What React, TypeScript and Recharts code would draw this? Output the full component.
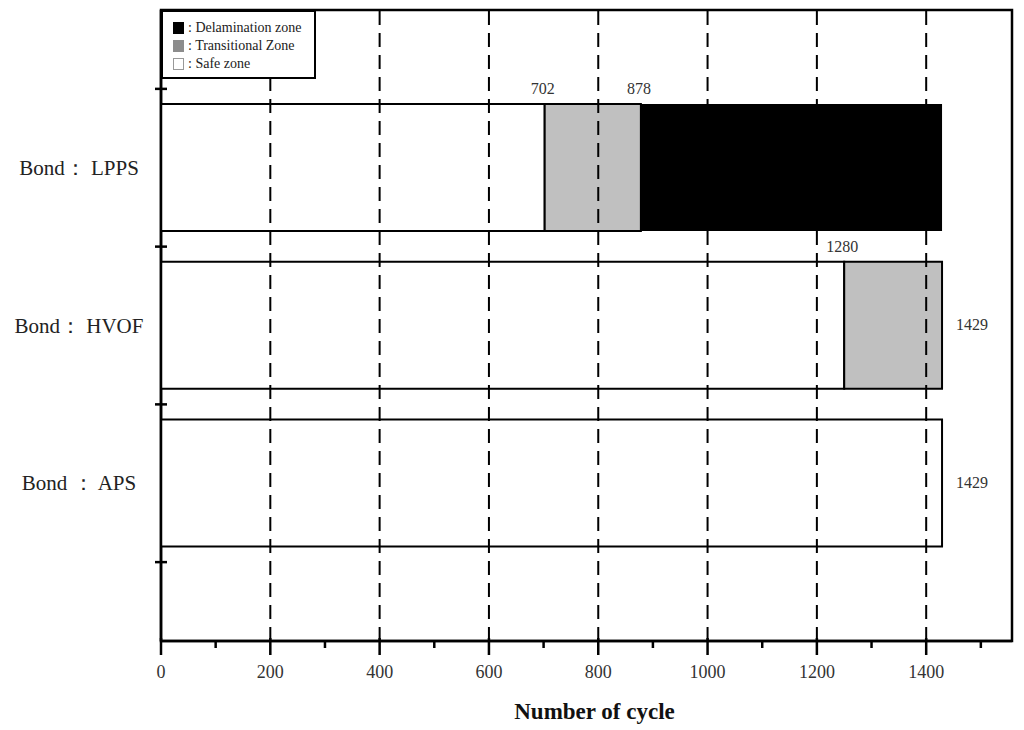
import {
  BarChart,
  Bar,
  XAxis,
  YAxis,
  ReferenceLine,
  ReferenceArea,
  LabelList,
  Legend,
} from 'recharts';

const categories = ['Bond： LPPS', 'Bond： HVOF', 'Bond ： APS'];
const positions = [1, 2, 3];
const safeZone = [702, 1250, 1429];
const transitionalZone = [176, 179, 0];
const delaminationZone = [551, 0, 0];
const safeEndLabels = ['702', '1280', ''];
const transitionalEndLabels = ['878', '', ''];
const totalLabels = ['', '1429', '1429'];

const xTicks = [0, 100, 200, 300, 400, 500, 600, 700, 800, 900, 1000, 1100, 1200, 1300, 1400, 1500];
const gridLines = [200, 400, 600, 800, 1000, 1200, 1400];
const yTicks = [0.5, 1, 1.5, 2, 2.5, 3, 3.5];

const legendItems = [
  { label: ': Delamination zone', fill: '#000000', stroke: '#000000' },
  { label: ': Transitional Zone', fill: '#8c8c8c', stroke: '#8c8c8c' },
  { label: ': Safe zone', fill: '#ffffff', stroke: '#999999' },
];

const FONT = '"Liberation Serif", "Times New Roman", serif';

// the total label sits next to whichever segment ends the row
const data = categories.map((name, i) => ({
  name,
  pos: positions[i],
  safe: safeZone[i],
  trans: transitionalZone[i],
  delam: delaminationZone[i],
  safeLabel: safeEndLabels[i],
  transLabel: transitionalEndLabels[i],
  safeTotal: transitionalZone[i] === 0 && delaminationZone[i] === 0 ? totalLabels[i] : '',
  transTotal: transitionalZone[i] > 0 && delaminationZone[i] === 0 ? totalLabels[i] : '',
  delamTotal: delaminationZone[i] > 0 ? totalLabels[i] : '',
}));

function XTick(props: any) {
  const { x, y, payload } = props;
  const v = payload.value;
  const major = v % 200 === 0;
  return (
    <g>
      <line x1={x} x2={x} y1={major ? y - 3 : y} y2={major ? y + 14 : y + 7} stroke='#000' strokeWidth={2.5} />
      {major && (
        <text x={x} y={y + 37} textAnchor='middle' fontSize={18} fill='#333' fontFamily={FONT}>
          {v}
        </text>
      )}
    </g>
  );
}

function YTick(props: any) {
  const { x, y, payload } = props;
  const v = payload.value;
  if (Number.isInteger(v)) {
    return (
      <text x={x - 82} y={y + 7} textAnchor='middle' fontSize={21} fill='#222' fontFamily={FONT}>
        {categories[v - 1]}
      </text>
    );
  }
  return <line x1={x - 6} x2={x + 6} y1={y} y2={y} stroke='#000' strokeWidth={2.5} />;
}

function boxOf(p: any) {
  const vb = p.viewBox ?? p;
  return { x: Number(vb.x), y: Number(vb.y), width: Number(vb.width), height: Number(vb.height) };
}

function TopEndLabel(props: any) {
  if (!props.value) return null;
  const { x, y, width } = boxOf(props);
  return (
    <text x={x + width - 2} y={y - 10} textAnchor='middle' fontSize={16} fill='#333' stroke='none' fontFamily={FONT}>
      {props.value}
    </text>
  );
}

function TotalLabel(props: any) {
  if (!props.value) return null;
  const { x, y, width, height } = boxOf(props);
  return (
    <text x={x + width + 30} y={y + height / 2 + 5} textAnchor='middle' fontSize={16} fill='#333' stroke='none' fontFamily={FONT}>
      {props.value}
    </text>
  );
}

function LegendBox() {
  return (
    <div
      style={{
        width: 155,
        height: 69,
        border: '2px solid #000',
        background: '#fff',
        fontFamily: FONT,
        fontSize: 14,
        color: '#222',
        paddingTop: 7,
        boxSizing: 'border-box',
      }}
    >
      {legendItems.map((item) => (
        <div key={item.label} style={{ display: 'flex', alignItems: 'center', height: 18, paddingLeft: 10 }}>
          <span
            style={{
              display: 'inline-block',
              width: 9,
              height: 10,
              background: item.fill,
              border: `1px solid ${item.stroke}`,
              marginRight: 4,
            }}
          />
          <span style={{ whiteSpace: 'nowrap' }}>{item.label}</span>
        </div>
      ))}
    </div>
  );
}

export default function App() {
  return (
    <div style={{ width: 1016, height: 722, fontFamily: FONT }}>
      <BarChart
        width={1016}
        height={722}
        data={data}
        layout='vertical'
        margin={{ top: 2, right: 12, bottom: 0, left: 0 }}
      >
        <XAxis
          type='number'
          domain={[0, 1557]}
          ticks={xTicks}
          interval={0}
          allowDataOverflow
          height={89}
          tickSize={0}
          tickMargin={0}
          tickLine={false}
          tick={<XTick />}
          axisLine={{ stroke: '#000', strokeWidth: 2.5 }}
          label={{
            content: (p: any) => {
              const vb = p.viewBox;
              return (
                <text
                  x={vb.x + vb.width / 2 + 8}
                  y={vb.y + 78}
                  textAnchor='middle'
                  fontSize={23}
                  fontWeight='bold'
                  fill='#111'
                  fontFamily={FONT}
                >
                  Number of cycle
                </text>
              );
            },
          }}
        />
        <YAxis
          type='number'
          dataKey='pos'
          domain={[0, 4]}
          ticks={yTicks}
          interval={0}
          width={153}
          tickSize={0}
          tickMargin={0}
          tickLine={false}
          tick={<YTick />}
          axisLine={{ stroke: '#000', strokeWidth: 2.5 }}
        />
        <ReferenceArea x1={0} x2={1557} y1={0} y2={4} fill='none' stroke='#000' strokeWidth={2.5} ifOverflow='visible' />
        <Bar dataKey='safe' stackId='a' barSize={127} fill='#ffffff' stroke='#000' strokeWidth={2} isAnimationActive={false}>
          <LabelList dataKey='safeLabel' content={<TopEndLabel />} />
          <LabelList dataKey='safeTotal' content={<TotalLabel />} />
        </Bar>
        <Bar dataKey='trans' stackId='a' barSize={127} fill='#c0c0c0' stroke='#000' strokeWidth={2} isAnimationActive={false}>
          <LabelList dataKey='transLabel' content={<TopEndLabel />} />
          <LabelList dataKey='transTotal' content={<TotalLabel />} />
        </Bar>
        <Bar dataKey='delam' stackId='a' barSize={127} fill='#000000' isAnimationActive={false}>
          <LabelList dataKey='delamTotal' content={<TotalLabel />} />
        </Bar>
        {gridLines.map((v) => (
          <ReferenceLine key={v} x={v} stroke='#000' strokeWidth={2} strokeDasharray='14 8' />
        ))}
        <Legend
          verticalAlign='middle'
          align='center'
          layout='horizontal'
          wrapperStyle={{ left: 153, top: 2, width: 155, height: 69 }}
          content={<LegendBox />}
        />
      </BarChart>
    </div>
  );
}
